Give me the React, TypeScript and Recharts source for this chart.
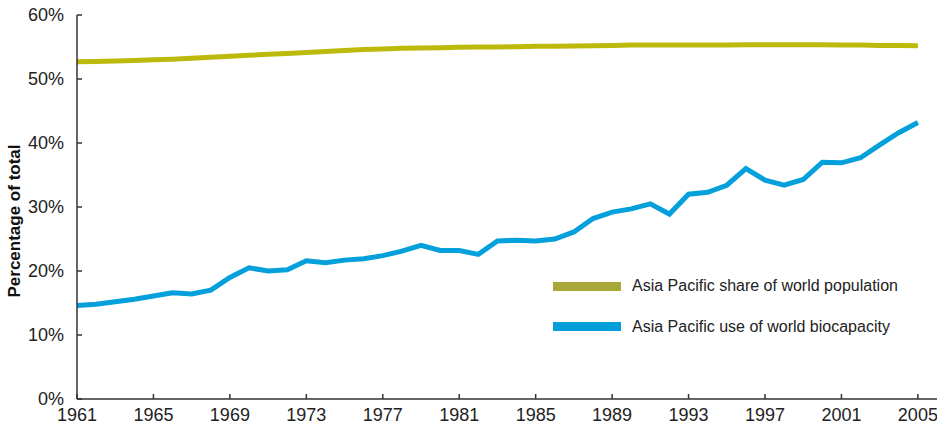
import { LineChart, Line, XAxis, YAxis, Legend, Label } from "recharts";

// Years on the x axis
const years = [
  1961, 1962, 1963, 1964, 1965, 1966, 1967, 1968, 1969, 1970, 1971, 1972,
  1973, 1974, 1975, 1976, 1977, 1978, 1979, 1980, 1981, 1982, 1983, 1984,
  1985, 1986, 1987, 1988, 1989, 1990, 1991, 1992, 1993, 1994, 1995, 1996,
  1997, 1998, 1999, 2000, 2001, 2002, 2003, 2004, 2005,
];

// Asia Pacific share of world population (%)
const populationShare = [
  52.7, 52.75, 52.8, 52.9, 53.0, 53.1, 53.25, 53.4, 53.55, 53.7, 53.85, 54.0,
  54.15, 54.3, 54.45, 54.6, 54.7, 54.8, 54.85, 54.9, 54.95, 55.0, 55.0, 55.05,
  55.1, 55.1, 55.15, 55.2, 55.25, 55.3, 55.3, 55.3, 55.3, 55.3, 55.3, 55.35,
  55.35, 55.35, 55.35, 55.35, 55.3, 55.3, 55.25, 55.25, 55.2,
];

// Asia Pacific use of world biocapacity (%)
const biocapacityUse = [
  14.6, 14.8, 15.2, 15.6, 16.1, 16.6, 16.4, 17.0, 19.0, 20.5, 20.0, 20.2,
  21.6, 21.3, 21.7, 21.9, 22.4, 23.1, 24.0, 23.2, 23.2, 22.6, 24.7, 24.8,
  24.7, 25.0, 26.1, 28.2, 29.2, 29.7, 30.5, 28.9, 32.0, 32.3, 33.4, 36.0,
  34.2, 33.4, 34.3, 37.0, 36.9, 37.7, 39.7, 41.6, 43.2,
];

const xTicks = [1961, 1965, 1969, 1973, 1977, 1981, 1985, 1989, 1993, 1997, 2001, 2005];
const yTicks = [0, 10, 20, 30, 40, 50, 60];

const seriesNames = [
  "Asia Pacific share of world population",
  "Asia Pacific use of world biocapacity",
];

const data = years.map((year, i) => ({
  year,
  population: populationShare[i],
  biocapacity: biocapacityUse[i],
}));

const FONT = "'Liberation Sans', Arial, sans-serif";
const legendColors = ["#a8a838", "#049fdb"];

const ChartLegend = () => (
  <div style={{ fontFamily: FONT, fontSize: 16, color: "#222" }}>
    {seriesNames.map((name, i) => (
      <div
        key={name}
        style={{ display: "flex", alignItems: "center", height: 40.5 }}
      >
        <span
          style={{
            display: "inline-block",
            width: 68,
            height: 9,
            background: legendColors[i],
            marginRight: 11,
          }}
        />
        <span>{name}</span>
      </div>
    ))}
  </div>
);

export default function App() {
  return (
    <div style={{ position: "absolute", left: 0, top: 0, background: "#fff" }}>
      <LineChart
        width={937}
        height={425}
        data={data}
        margin={{ top: 15, right: 0, bottom: 0, left: 0 }}
      >
        <XAxis
          dataKey="year"
          type="number"
          domain={[1961, 2006]}
          ticks={xTicks}
          interval={0}
          height={26}
          tickSize={-5}
          tickMargin={14}
          axisLine={{ stroke: "#333", strokeWidth: 1.5 }}
          tickLine={{ stroke: "#333", strokeWidth: 1.5 }}
          tick={{ fill: "#222", fontSize: 18, fontFamily: FONT }}
        />
        <YAxis
          type="number"
          domain={[0, 60]}
          ticks={yTicks}
          interval={0}
          width={77}
          tickSize={-5}
          tickMargin={18}
          tickFormatter={(v) => `${v}%`}
          axisLine={{ stroke: "#333", strokeWidth: 1.5 }}
          tickLine={{ stroke: "#333", strokeWidth: 1.5 }}
          tick={{ fill: "#222", fontSize: 18, fontFamily: FONT }}
        >
          <Label
            value="Percentage of total"
            angle={-90}
            position="center"
            dx={-25}
            dy={14}
            style={{
              fontFamily: FONT,
              fontSize: 17,
              fontWeight: "bold",
              fill: "#111",
              textAnchor: "middle",
            }}
          />
        </YAxis>
        <Legend
          layout="horizontal"
          align="center"
          verticalAlign="middle"
          content={<ChartLegend />}
          wrapperStyle={{ left: 553, top: 266, width: 380 }}
        />
        <Line
          type="linear"
          dataKey="population"
          name={seriesNames[0]}
          stroke="#bdb90a"
          strokeWidth={5}
          dot={false}
          isAnimationActive={false}
        />
        <Line
          type="linear"
          dataKey="biocapacity"
          name={seriesNames[1]}
          stroke="#04a0dc"
          strokeWidth={5}
          dot={false}
          isAnimationActive={false}
        />
      </LineChart>
    </div>
  );
}
